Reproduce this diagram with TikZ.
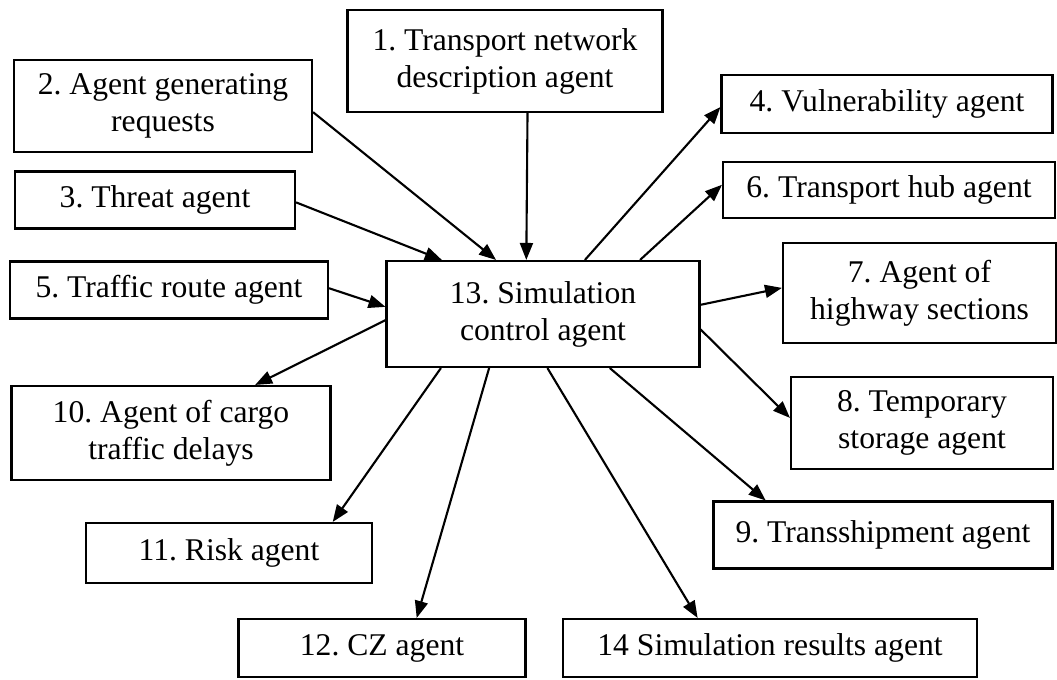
\documentclass[tikz,border=0pt]{standalone}
\usepackage{fontspec}
\setmainfont{Liberation Serif}
\usetikzlibrary{arrows.meta,calc}

\tikzset{
	agent/.style={draw, line width=1.2pt, align=center, inner sep=2pt,
		font=\frenchspacing\fontsize{18}{21}\selectfont},
	arr/.style={line width=1.2pt, -{Triangle[length=0.34cm,width=0.26cm]}}
}

\begin{document}
\begin{tikzpicture}[x=0.02cm, y=-0.02cm]
		\useasboundingbox (0,0) rectangle (1057,679);
		
		% Agents
		\node[agent, minimum width=6.3cm, minimum height=2.04cm] (network) at (505,61) {1. Transport network\\description agent};
		\node[agent, minimum width=5.96cm, minimum height=1.84cm] (requests) at (163,106) {2. Agent generating\\requests};
		\node[agent, minimum width=5.6cm, minimum height=1.14cm] (threat) at (155,200) {3. Threat agent};
		\node[agent, minimum width=6.62cm, minimum height=1.16cm] (vulner) at (887,104) {4. Vulnerability agent};
		\node[agent, minimum width=6.36cm, minimum height=1.14cm] (route) at (169,290) {5. Traffic route agent};
		\node[agent, minimum width=6.64cm, minimum height=1.12cm] (hub) at (889,190) {6. Transport hub agent};
		\node[agent, minimum width=5.46cm, minimum height=2.0cm] (highway) at (919.5,293) {7. Agent of\\highway sections};
		\node[agent, minimum width=5.24cm, minimum height=1.84cm] (storage) at (922,423) {8. Temporary\\storage agent};
		\node[agent, minimum width=6.78cm, minimum height=1.34cm] (transship) at (883,535) {9. Transshipment agent};
		\node[agent, minimum width=6.38cm, minimum height=1.88cm] (delays) at (171,433) {10. Agent of cargo\\traffic delays};
		\node[agent, minimum width=5.72cm, minimum height=1.2cm] (risk) at (229,553) {11. Risk agent};
		\node[agent, minimum width=5.74cm, minimum height=1.16cm] (cz) at (382,648) {12. CZ agent};
		\node[agent, minimum width=6.26cm, minimum height=2.12cm] (control) at (543,314) {13. Simulation\\control agent};
		\node[agent, minimum width=8.28cm, minimum height=1.16cm] (results) at (770,648) {14 Simulation results agent};
		
		% Into the control agent
		\draw[arr] ($(network.south west)!0.571!(network.south east)$) -- ($(control.north west)!0.447!(control.north east)$);
		\draw[arr] ($(requests.north east)!0.565!(requests.south east)$) -- ($(control.north west)!0.351!(control.north east)$);
		\draw[arr] ($(threat.north east)!0.54!(threat.south east)$) -- ($(control.north west)!0.179!(control.north east)$);
		\draw[arr] ($(route.north east)!0.47!(route.south east)$) -- ($(control.north west)!0.434!(control.south west)$);
		
		% Out of the control agent
		\draw[arr] ($(control.north west)!0.633!(control.north east)$) -- ($(vulner.north west)!0.55!(vulner.south west)$);
		\draw[arr] ($(control.north west)!0.808!(control.north east)$) -- ($(hub.north west)!0.41!(hub.south west)$);
		\draw[arr] ($(control.north east)!0.415!(control.south east)$) -- ($(highway.north west)!0.45!(highway.south west)$);
		\draw[arr] ($(control.north east)!0.642!(control.south east)$) -- ($(storage.north west)!0.446!(storage.south west)$);
		\draw[arr] ($(control.north west)!0.557!(control.south west)$) -- ($(delays.north west)!0.762!(delays.north east)$);
		\draw[arr] ($(control.south west)!0.176!(control.south east)$) -- ($(risk.north west)!0.86!(risk.north east)$);
		\draw[arr] ($(control.south west)!0.329!(control.south east)$) -- ($(cz.north west)!0.62!(cz.north east)$);
		\draw[arr] ($(control.south west)!0.514!(control.south east)$) -- ($(results.north west)!0.326!(results.north east)$);
		\draw[arr] ($(control.south west)!0.712!(control.south east)$) -- ($(transship.north west)!0.156!(transship.north east)$);
	\end{tikzpicture}
\end{document}
